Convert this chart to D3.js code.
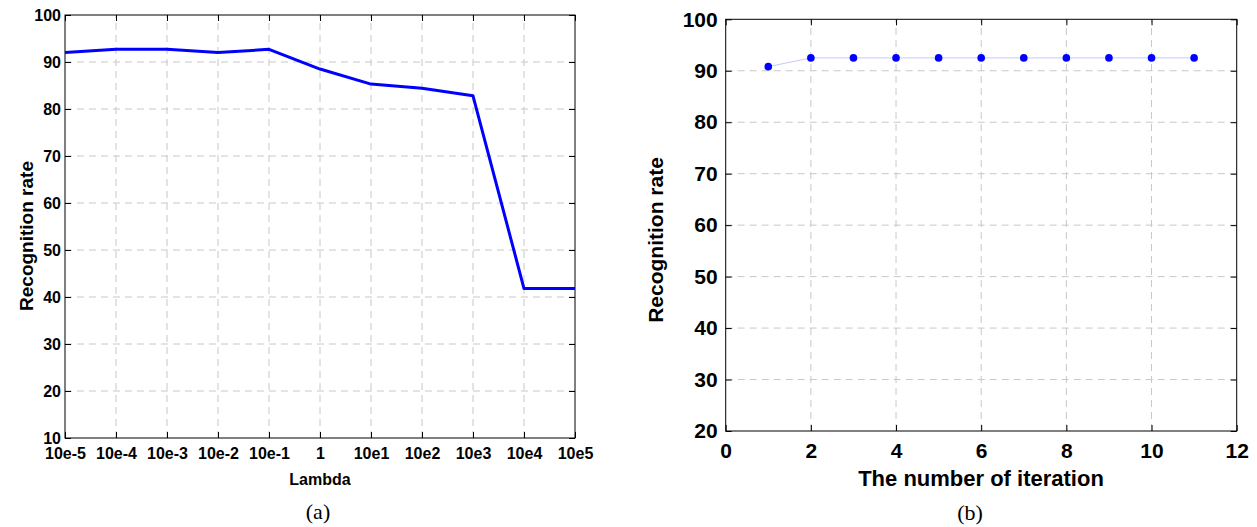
<!DOCTYPE html>
<html>
<head>
<meta charset="utf-8">
<script src="https://cdn.jsdelivr.net/npm/d3@7"></script>
<style>
  body { margin: 0; background: #fff; }
  svg { display: block; }
  .tick text { font-family: "Liberation Sans", Arial, sans-serif; font-weight: bold; fill: #000; }
  .grid line { stroke: #c8c8c8; stroke-width: 1; stroke-dasharray: 7,5; }
</style>
</head>
<body>
<div id="chart"></div>
<script>

// ---------------------------------------------------------------
// data

// (a) recognition rate against lambda
let lambdaLabels = ["10e-5", "10e-4", "10e-3", "10e-2", "10e-1", "1",
                    "10e1", "10e2", "10e3", "10e4", "10e5"];
let lambdaRate = [92.0, 92.7, 92.7, 92.0, 92.7, 88.5, 85.3, 84.4, 82.8, 41.8, 41.8];

// (b) recognition rate against the number of iteration
let iterations = [1, 2, 3, 4, 5, 6, 7, 8, 9, 10, 11];
let iterRate = [90.8, 92.5, 92.5, 92.5, 92.5, 92.5, 92.5, 92.5, 92.5, 92.5, 92.5];

let yTicksA = [10, 20, 30, 40, 50, 60, 70, 80, 90, 100];
let xTicksB = [0, 2, 4, 6, 8, 10, 12];
let yTicksB = [20, 30, 40, 50, 60, 70, 80, 90, 100];

// ---------------------------------------------------------------

let svg = d3.select("#chart")
  .append("svg")
  .attr("width", 1257)
  .attr("height", 527);

let fontFam = "'Liberation Sans', Arial, sans-serif";

// draws the grid, the box and the inward ticks on all four sides
function frame(g, x, y, xTicks, yTicks, fontSize, xPad, yPad, xFmt) {
  let [x0, x1] = x.range();
  let [y0, y1] = y.range();   // y0 is the bottom

  g.append("g").attr("class", "grid")
    .selectAll("line").data(xTicks.slice(1, -1)).enter().append("line")
    .attr("x1", x).attr("x2", x).attr("y1", y0).attr("y2", y1);
  g.append("g").attr("class", "grid")
    .selectAll("line").data(yTicks.slice(1, -1)).enter().append("line")
    .attr("x1", x0).attr("x2", x1).attr("y1", y).attr("y2", y);

  g.append("g").attr("transform", `translate(0,${y0})`)
    .call(d3.axisBottom(x).tickValues(xTicks).tickSizeInner(-6).tickSizeOuter(0)
      .tickPadding(xPad).tickFormat(xFmt));
  g.append("g").attr("transform", `translate(${x0},0)`)
    .call(d3.axisLeft(y).tickValues(yTicks).tickSizeInner(-6).tickSizeOuter(0)
      .tickPadding(yPad));
  g.append("g").attr("transform", `translate(0,${y1})`)
    .call(d3.axisTop(x).tickValues(xTicks).tickSizeInner(-6).tickSizeOuter(0).tickFormat(""));
  g.append("g").attr("transform", `translate(${x1},0)`)
    .call(d3.axisRight(y).tickValues(yTicks).tickSizeInner(-6).tickSizeOuter(0).tickFormat(""));

  g.selectAll(".domain").remove();
  g.selectAll(".tick line").attr("stroke", "#000");
  g.selectAll(".tick text").style("font-size", fontSize + "px");

  g.append("rect")
    .attr("x", x0).attr("y", y1)
    .attr("width", x1 - x0).attr("height", y0 - y1)
    .attr("fill", "none").attr("stroke", "#000").attr("stroke-width", 1);
}

function label(txt, x, y, size, rotate, family, weight) {
  svg.append("text")
    .attr("transform", `translate(${x},${y})` + (rotate ? " rotate(-90)" : ""))
    .attr("text-anchor", "middle")
    .style("font-family", family || fontFam)
    .style("font-weight", weight || "bold")
    .style("font-size", size + "px")
    .text(txt);
}

// ---------------------------------------------------------------
// (a)

let xA = d3.scalePoint().domain(lambdaLabels).range([65, 575]);
let yA = d3.scaleLinear().domain([10, 100]).range([438, 15]);

let gA = svg.append("g");
frame(gA, xA, yA, lambdaLabels, yTicksA, 16, 10, 4, d => d);

gA.append("path")
  .datum(lambdaRate)
  .attr("fill", "none")
  .attr("stroke", "#0000ff")
  .attr("stroke-width", 3)
  .attr("stroke-linejoin", "round")
  .attr("d", d3.line().x((d, i) => xA(lambdaLabels[i])).y(d => yA(d)));

label("Lambda", 320, 485, 16);
label("Recognition rate", 33, 236, 19, true);
label("(a)", 318, 519, 22, false, "'Liberation Serif', 'Times New Roman', serif", "normal");

// ---------------------------------------------------------------
// (b)

let xB = d3.scaleLinear().domain([0, 12]).range([725.7, 1236.7]);
let yB = d3.scaleLinear().domain([20, 100]).range([431, 19.3]);

let gB = svg.append("g");
frame(gB, xB, yB, xTicksB, yTicksB, 21, 12, 8, d3.format("d"));

gB.append("path")
  .datum(iterRate)
  .attr("fill", "none")
  .attr("stroke", "#c8c8ff")
  .attr("stroke-width", 1)
  .attr("d", d3.line().x((d, i) => xB(iterations[i])).y(d => yB(d)));

gB.selectAll("circle")
  .data(iterRate)
  .enter()
  .append("circle")
  .attr("cx", (d, i) => xB(iterations[i]))
  .attr("cy", d => yB(d))
  .attr("r", 3.8)
  .attr("fill", "#0000ff");

label("The number of iteration", 981, 486, 22);
label("Recognition rate", 663, 240, 21, true);
label("(b)", 970, 520, 22, false, "'Liberation Serif', 'Times New Roman', serif", "normal");

</script>
</body>
</html>
